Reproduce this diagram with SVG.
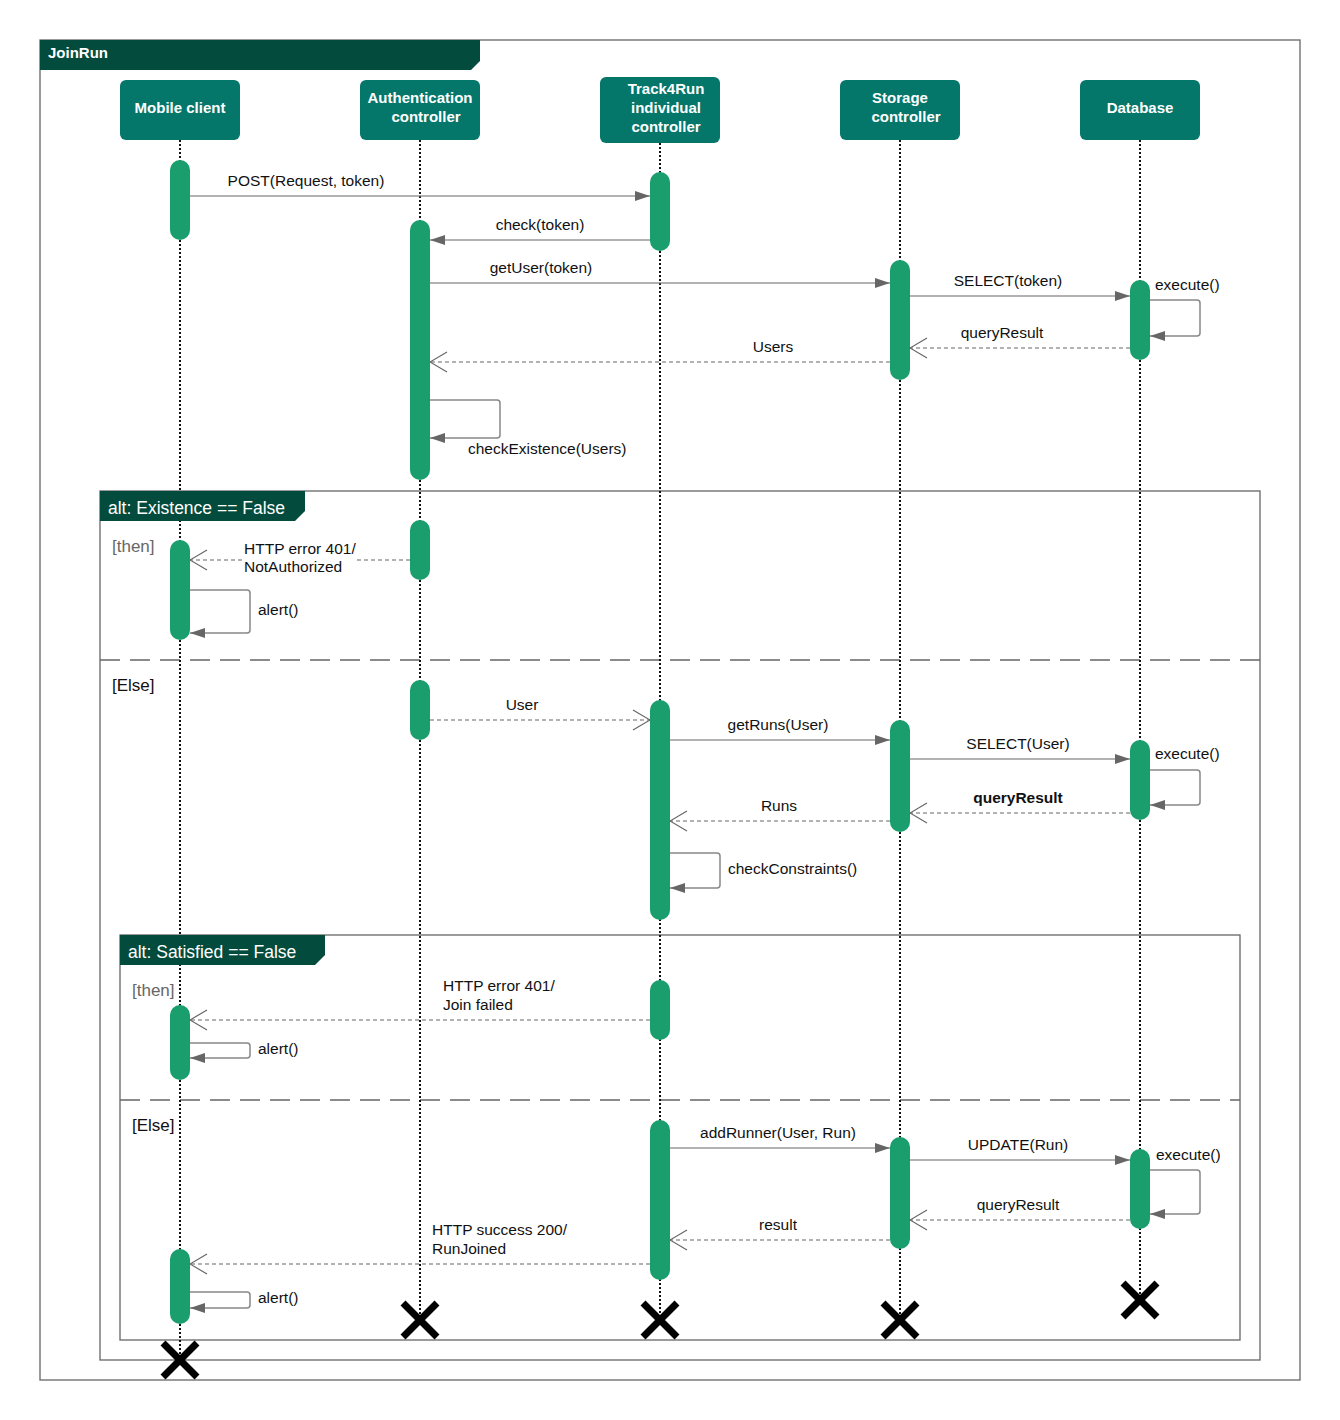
<svg xmlns="http://www.w3.org/2000/svg" width="1340" height="1420" viewBox="0 0 1340 1420">
<defs>
<style>
.head{fill:#04766a;}
.htxt{font-family:"Liberation Sans",Arial,sans-serif;font-weight:bold;font-size:15px;fill:#fff;text-anchor:middle;}
.bar{fill:#1a9e6e;}
.life{stroke:#111;stroke-width:2;stroke-dasharray:2,2;fill:none;}
.msg{stroke:#666;stroke-width:1.2;fill:none;marker-end:url(#fill);}
.ret{stroke:#666;stroke-width:1.2;fill:none;stroke-dasharray:4,3;marker-end:url(#open);}
.loop{stroke:#888;stroke-width:1.5;fill:none;marker-end:url(#fill);}
.lbl{font-family:"Liberation Sans",Arial,sans-serif;font-size:15.5px;fill:#111;}
.c{text-anchor:middle;}
.frame{fill:none;stroke:#666;stroke-width:1.3;}
.tab{fill:#034b3c;}
.ttxt{font-family:"Liberation Sans",Arial,sans-serif;font-size:17.5px;fill:#fff;}
.guard{font-family:"Liberation Sans",Arial,sans-serif;font-size:17px;}
.div{stroke:#666;stroke-width:1.3;stroke-dasharray:20,10;}
.x{stroke:#000;stroke-width:7;}
</style>
<marker id="fill" markerUnits="userSpaceOnUse" markerWidth="15" markerHeight="10" refX="15" refY="5" orient="auto"><path d="M0,0 L15,5 L0,10 z" fill="#666"/></marker>
<marker id="open" markerUnits="userSpaceOnUse" markerWidth="19" markerHeight="22" refX="18" refY="11" orient="auto"><path d="M1,1 L18,11 L1,21" fill="none" stroke="#666" stroke-width="1.2"/></marker>
</defs>
<rect x="0" y="0" width="1340" height="1420" fill="#fff"/>

<g id="frame-joinrun">
<rect class="frame" x="40" y="40" width="1260" height="1340"/>
<polygon class="tab" points="40,40 480,40 480,61 471,70 40,70"/>
<text x="48" y="58" class="htxt" style="text-anchor:start">JoinRun</text>
</g>

<g id="alt1-frame">
<rect class="frame" x="100" y="491" width="1160" height="869"/>
<line class="div" x1="100" y1="660" x2="1260" y2="660"/>
</g>

<g id="alt2-frame">
<rect class="frame" x="120" y="935" width="1120" height="405"/>
<line class="div" x1="120" y1="1100" x2="1240" y2="1100"/>
</g>

<g id="mobile-client">
<line class="life" x1="180" y1="140" x2="180" y2="1358"/>
<rect class="head" x="120" y="80" width="120" height="60" rx="6"/>
<text class="htxt" x="180" y="113">Mobile client</text>
<rect class="bar" x="170" y="160" width="20" height="80" rx="10"/>
<rect class="bar" x="170" y="540" width="20" height="100" rx="10"/>
<rect class="bar" x="170" y="1005" width="20" height="75" rx="10"/>
<rect class="bar" x="170" y="1249" width="20" height="75" rx="10"/>
<path class="x" d="M163,1343 L197,1377 M197,1343 L163,1377"/>
</g>

<g id="auth-controller">
<line class="life" x1="420" y1="140" x2="420" y2="1318"/>
<rect class="head" x="360" y="80" width="120" height="60" rx="6"/>
<text class="htxt" x="420" y="103">Authentication</text>
<text class="htxt" x="426" y="122">controller</text>
<rect class="bar" x="410" y="220" width="20" height="260" rx="10"/>
<rect class="bar" x="410" y="520" width="20" height="60" rx="10"/>
<rect class="bar" x="410" y="680" width="20" height="60" rx="10"/>
<path class="x" d="M403,1303 L437,1337 M437,1303 L403,1337"/>
</g>

<g id="track4run-controller">
<line class="life" x1="660" y1="143" x2="660" y2="1318"/>
<rect class="head" x="600" y="77" width="120" height="66" rx="6"/>
<text class="htxt" x="666" y="94">Track4Run</text>
<text class="htxt" x="666" y="113">individual</text>
<text class="htxt" x="666" y="132">controller</text>
<rect class="bar" x="650" y="172" width="20" height="79" rx="10"/>
<rect class="bar" x="650" y="700" width="20" height="220" rx="10"/>
<rect class="bar" x="650" y="980" width="20" height="60" rx="10"/>
<rect class="bar" x="650" y="1120" width="20" height="160" rx="10"/>
<path class="x" d="M643,1303 L677,1337 M677,1303 L643,1337"/>
</g>

<g id="storage-controller">
<line class="life" x1="900" y1="140" x2="900" y2="1318"/>
<rect class="head" x="840" y="80" width="120" height="60" rx="6"/>
<text class="htxt" x="900" y="103">Storage</text>
<text class="htxt" x="906" y="122">controller</text>
<rect class="bar" x="890" y="260" width="20" height="120" rx="10"/>
<rect class="bar" x="890" y="720" width="20" height="112" rx="10"/>
<rect class="bar" x="890" y="1137" width="20" height="112" rx="10"/>
<path class="x" d="M883,1303 L917,1337 M917,1303 L883,1337"/>
</g>

<g id="database">
<line class="life" x1="1140" y1="140" x2="1140" y2="1298"/>
<rect class="head" x="1080" y="80" width="120" height="60" rx="6"/>
<text class="htxt" x="1140" y="113">Database</text>
<rect class="bar" x="1130" y="280" width="20" height="80" rx="10"/>
<rect class="bar" x="1130" y="740" width="20" height="80" rx="10"/>
<rect class="bar" x="1130" y="1149" width="20" height="80" rx="10"/>
<path class="x" d="M1123,1283 L1157,1317 M1157,1283 L1123,1317"/>
</g>

<g id="alt1-labels">
<polygon class="tab" points="100,491 305,491 305,511 295,521 100,521"/>
<text x="108" y="514" class="ttxt">alt: Existence == False</text>
<text x="112" y="552" class="guard" fill="#666">[then]</text>
<text x="112" y="691" class="guard" fill="#111">[Else]</text>
</g>

<g id="alt2-labels">
<polygon class="tab" points="120,935 325,935 325,955 315,965 120,965"/>
<text x="128" y="958" class="ttxt">alt: Satisfied == False</text>
<text x="132" y="996" class="guard" fill="#666">[then]</text>
<text x="132" y="1131" class="guard" fill="#111">[Else]</text>
</g>

<g id="connectors">
<line class="msg" x1="190" y1="196" x2="650" y2="196"/>
<text class="lbl c" x="306" y="186">POST(Request, token)</text>
<line class="msg" x1="650" y1="240" x2="430" y2="240"/>
<text class="lbl c" x="540" y="230">check(token)</text>
<line class="msg" x1="430" y1="283" x2="890" y2="283"/>
<text class="lbl c" x="541" y="273">getUser(token)</text>
<line class="msg" x1="910" y1="296" x2="1130" y2="296"/>
<text class="lbl c" x="1008" y="286">SELECT(token)</text>
<path class="loop" d="M1150,300 H1197 Q1200,300 1200,303 V333 Q1200,336 1197,336 H1150"/>
<text class="lbl" x="1155" y="290">execute()</text>
<line class="ret" x1="1130" y1="348" x2="910" y2="348"/>
<text class="lbl c" x="1002" y="338">queryResult</text>
<line class="ret" x1="890" y1="362" x2="430" y2="362"/>
<text class="lbl c" x="773" y="352">Users</text>
<path class="loop" d="M430,400 H497 Q500,400 500,403 V435 Q500,438 497,438 H430"/>
<text class="lbl" x="468" y="454">checkExistence(Users)</text>

<line class="ret" x1="410" y1="560" x2="190" y2="560"/>
<rect x="242" y="540" width="114" height="36" fill="#fff"/>
<text class="lbl" x="244" y="554">HTTP error 401/</text>
<text class="lbl" x="244" y="572">NotAuthorized</text>
<path class="loop" d="M190,590 H247 Q250,590 250,593 V630 Q250,633 247,633 H190"/>
<text class="lbl" x="258" y="615">alert()</text>

<line class="ret" x1="430" y1="720" x2="650" y2="720"/>
<text class="lbl c" x="522" y="710">User</text>
<line class="msg" x1="670" y1="740" x2="890" y2="740"/>
<text class="lbl c" x="778" y="730">getRuns(User)</text>
<line class="msg" x1="910" y1="759" x2="1130" y2="759"/>
<text class="lbl c" x="1018" y="749">SELECT(User)</text>
<path class="loop" d="M1150,770 H1197 Q1200,770 1200,773 V802 Q1200,805 1197,805 H1150"/>
<text class="lbl" x="1155" y="759">execute()</text>
<line class="ret" x1="1130" y1="813" x2="910" y2="813"/>
<text class="lbl c" x="1018" y="803" font-weight="bold">queryResult</text>
<line class="ret" x1="890" y1="821" x2="670" y2="821"/>
<text class="lbl c" x="779" y="811">Runs</text>
<path class="loop" d="M670,853 H717 Q720,853 720,856 V885 Q720,888 717,888 H670"/>
<text class="lbl" x="728" y="874">checkConstraints()</text>

<line class="ret" x1="650" y1="1020" x2="190" y2="1020"/>
<text class="lbl" x="443" y="991">HTTP error 401/</text>
<text class="lbl" x="443" y="1010">Join failed</text>
<path class="loop" d="M190,1043 H247 Q250,1043 250,1046 V1055 Q250,1058 247,1058 H190"/>
<text class="lbl" x="258" y="1054">alert()</text>

<line class="msg" x1="670" y1="1148" x2="890" y2="1148"/>
<text class="lbl c" x="778" y="1138">addRunner(User, Run)</text>
<line class="msg" x1="910" y1="1160" x2="1130" y2="1160"/>
<text class="lbl c" x="1018" y="1150">UPDATE(Run)</text>
<path class="loop" d="M1150,1170 H1197 Q1200,1170 1200,1173 V1211 Q1200,1214 1197,1214 H1150"/>
<text class="lbl" x="1156" y="1160">execute()</text>
<line class="ret" x1="1130" y1="1220" x2="910" y2="1220"/>
<text class="lbl c" x="1018" y="1210">queryResult</text>
<line class="ret" x1="890" y1="1240" x2="670" y2="1240"/>
<text class="lbl c" x="778" y="1230">result</text>
<line class="ret" x1="650" y1="1264" x2="190" y2="1264"/>
<text class="lbl" x="432" y="1235">HTTP success 200/</text>
<text class="lbl" x="432" y="1254">RunJoined</text>
<path class="loop" d="M190,1292 H247 Q250,1292 250,1295 V1305 Q250,1308 247,1308 H190"/>
<text class="lbl" x="258" y="1303">alert()</text>
</g>
</svg>
